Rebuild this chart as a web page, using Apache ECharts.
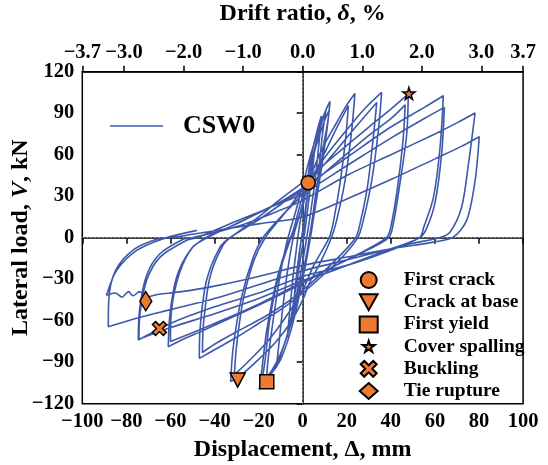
<!DOCTYPE html>
<html><head><meta charset="utf-8">
<script src="https://cdn.jsdelivr.net/npm/echarts@6/dist/echarts.min.js"></script>
<style>html,body{margin:0;padding:0;background:#fff}#c{width:548px;height:465px}</style>
</head><body><div id="c"></div>
<script>
// Hysteresis cycles for CSW0: [displacement mm, lateral load kN]
const cycleE1 = [[0,0],[1.5,22],[2.5,38],[3,40],[2,28],[0.5,10],[-1,-5],[-2.5,-25],[-4,-45],[-3,-30],[-1.5,-10],[0,5]];
const cycleE2 = [[2,30],[4,50],[5.5,65],[4.5,50],[3,30],[1,5],[-1,-15],[-3,-35],[-5,-55],[-7,-72],[-6,-55],[-4.5,-30],[-3,-10],[-1.5,8]];
const cycleE3 = [[1,30],[4,60],[7,80],[8.5,88],[7.5,70],[5.5,40],[3,12],[1,-8],[-2,-35],[-6,-65],[-10,-85],[-12,-94],[-11,-80],[-9,-50],[-6.5,-20],[-4,2]];
const cycleE4 = [[0,25],[4,55],[8,80],[10.5,92],[9,75],[7,45],[4.5,15],[2.5,-5],[0,-30],[-5,-65],[-10,-88],[-15,-100],[-16.5,-102],[-15.5,-85],[-13,-55],[-10,-25],[-7,-2]];
const cycle1a = [[-3,20],[0,38],[4,62],[8,82],[11,94],[12.4,98.5],[11.5,85],[9.3,65],[6.4,29],[3.3,0.4],[1,-18],[-2,-40],[-6,-65],[-11,-88],[-16,-102],[-19.7,-109.6],[-18.5,-95],[-16.3,-66.8],[-11.8,-30.8],[-7.3,-6.8],[-4.3,5.3]];
const cycle1b = [[-1,25],[2,42],[6,66],[10,85],[12,92],[11,78],[8.5,50],[5.5,20],[3.5,0],[0,-30],[-4,-55],[-9,-80],[-14,-96],[-18.5,-104],[-17,-88],[-15,-60],[-11,-28],[-6,-3],[-3,8]];
const cycle2a = [[0,25],[5,50],[10,68],[15,82],[20,96],[23.7,104.3],[22.2,77],[19.2,41],[15.4,12.5],[13,0],[8,-18],[3,-33],[0,-45],[-5,-60],[-12,-75],[-20,-88],[-27,-98],[-32.7,-104],[-31.5,-79],[-27.7,-42.8],[-22.4,-14],[-17.9,0.4]];
const cycle2b = [[-10,15],[0,32],[8,55],[15,78],[20.7,95.4],[19.5,72],[17,40],[14,12],[12,0],[5,-20],[0,-38],[-8,-58],[-16,-75],[-25,-90],[-31,-99],[-30,-78],[-27,-45],[-22,-16],[-17,0]];
const cycle3a = [[-8,18],[0,35],[10,58],[20,78],[28,93],[35.8,105],[34.3,77],[31.3,41],[27.5,12.5],[25,0],[18,-14],[10,-26],[0,-40],[-10,-52],[-20,-62],[-30,-72],[-40,-81],[-46.9,-87.2],[-46.6,-66.8],[-43.6,-30.8],[-37.5,-6.8],[-33,0]];
const cycle3b = [[-20,13],[-10,24],[0,36],[12,57],[24,80],[33.6,97.8],[32,72],[29.5,38],[26,10],[24,0],[15,-16],[0,-38],[-15,-55],[-30,-68],[-40,-77],[-45.5,-83],[-45,-62],[-42,-28],[-36,-5],[-32,1]];
const cycle4a = [[-20,15],[-10,28],[0,40],[15,60],[30,80],[40,93],[47.9,104],[47.2,75],[44.1,39],[41.1,10],[39,0],[28,-10],[15,-20],[0,-33],[-15,-45],[-30,-56],[-45,-67],[-55,-74],[-61,-78.9],[-60.2,-54.8],[-57.2,-28.4],[-51.1,-9.2],[-43.6,0.4]];
const cycle4b = [[-30,10],[-15,22],[0,34],[15,54],[30,74],[40,86],[46.5,96],[45.5,70],[43,36],[40,8],[38,0],[25,-12],[10,-24],[0,-32],[-20,-48],[-40,-62],[-52,-70],[-60,-75],[-59.5,-52],[-56,-26],[-50,-7],[-42,1]];
const cycle5a = [[-25,14],[-10,26],[0,36],[20,58],[40,80],[55,94],[63.8,102.6],[62.3,65],[59.3,29],[55,8],[53,0],[40,-8],[25,-17],[10,-26],[0,-31],[-20,-44],[-40,-55],[-60,-65],[-74.3,-73.5],[-73.8,-54.8],[-70.8,-30.8],[-64.7,-14],[-52.6,-1.9],[-48,0]];
const cycle5b = [[-30,12],[-10,25],[0,32],[20,52],[40,72],[55,86],[64.3,94.2],[63,60],[60,25],[56,6],[53,0],[40,-9],[20,-20],[0,-28],[-20,-40],[-40,-50],[-60,-62],[-74.6,-74],[-74,-52],[-71,-28],[-65,-12],[-54,-1],[-50,0]];
const cycle6a = [[-30,8],[-10,20],[0,27],[20,45],[40,60],[60,75],[70,83],[78.2,90.1],[75.2,53.3],[72.1,22],[66.8,4],[62,0],[50,-4],[30,-12],[15,-18],[0,-24],[-20,-34],[-40,-44],[-60,-52],[-75,-58],[-88.2,-64.4],[-88,-45],[-85,-24],[-77,-9],[-66,-1],[-60,0]];
const cycle6b = [[-40,5],[-20,10],[0,15],[20,28],[40,42],[60,57],[72,66],[80.1,73],[78.2,41],[74.4,12.5],[68.3,0.4],[60,-3],[40,-8],[20,-14],[0,-20],[-20,-28],[-40,-35],[-55,-39],[-66,-41],[-71,-43],[-74,-39],[-77,-42],[-79,-39],[-82,-43],[-85,-40],[-89,-41.6],[-84.4,-23.6],[-75.3,-9.2],[-63.2,-0.7],[-48,5.3]];
const cycles = [cycleE1,cycleE2,cycleE3,cycleE4,cycle1a,cycle1b,cycle2a,cycle2b,cycle3a,cycle3b,cycle4a,cycle4b,cycle5a,cycle5b,cycle6a,cycle6b];

// Damage events
const eventNames = ['First crack','Crack at base','First yield','Cover spalling','Buckling','Tie rupture'];
const eventPoints = [[2.5,39.7],[-29.5,-102.9],[-16.3,-104.1],[48.2,104.3],[-65,-65.6],[-71.2,-45.9]];

// Axis ticks
const driftTicks = [-3.7,-3.0,-2.0,-1.0,0.0,1.0,2.0,3.0,3.7];
const dispTicks = [-100,-80,-60,-40,-20,0,20,40,60,80,100];
const loadTicks = [-120,-90,-60,-30,0,30,60,90,120];

const loopData = [].concat(...cycles);
const FONT = '"Liberation Serif", "DejaVu Serif", serif';
const ORANGE = '#EE7A31';
const BLUE = '#3E58AB';
const minus = s => String(s).replace('-', '\u2212');

const STAR = 'M50,0 L61,35 L98,35 L68,57 L79,91 L50,70 L21,91 L32,57 L2,35 L39,35 Z';
const symbols = {
  'First crack': {symbol:'circle', size:14},
  'Crack at base': {symbol:'path://M0,0 L100,0 L50,90 Z', size:[15,14]},
  'First yield': {symbol:'rect', size:14},
  'Cover spalling': {symbol:'path://' + STAR, size:12},
  'Buckling': {symbol:'path://M22,0 L50,28 L78,0 L100,22 L72,50 L100,78 L78,100 L50,72 L22,100 L0,78 L28,50 L0,22 Z', size:14},
  'Tie rupture': {symbol:'diamond', size:[12,19]}
};

const eventSeries = eventNames.map((n,i)=>({
  name:n, type:'scatter', xAxisIndex:0, yAxisIndex:0,
  symbol: symbols[n].symbol, symbolSize: symbols[n].size,
  itemStyle:{color:ORANGE, borderColor:'#000', borderWidth:1.5, opacity:1},
  data:[eventPoints[i]], z:5
}));

const legendItems = eventNames.map(n => n === 'Cover spalling'
  ? {name:n, icon:'path://M-20,-18 M120,112 ' + STAR} : {name:n});

const tickFont = {color:'#000', fontFamily:FONT, fontWeight:'bold', fontSize:20.5};
const nameFont = {fontFamily:FONT, fontWeight:'bold', fontSize:24, color:'#000'};

const chart = echarts.init(document.getElementById('c'), null, {renderer:'canvas'});
chart.setOption({
  animation:false,
  backgroundColor:'#fff',
  textStyle:{fontFamily:FONT},
  grid:{left:82.3, top:71.7, right:24.9, bottom:61.3, show:true, borderColor:'#000', borderWidth:1.5,
        containLabel:false, outerBoundsMode:'none'},
  legend:[
    {data:[{name:'CSW0', icon:'path://M0,0H100V3H0Z'}], left:105, top:108, itemWidth:53, itemHeight:3,
     itemStyle:{color:BLUE},
     textStyle:{fontFamily:FONT, fontWeight:'bold', fontSize:26, color:'#000', padding:[0,0,0,15]}},
    {data:legendItems, orient:'vertical', left:353.7, top:265, itemGap:2.2, itemWidth:18, itemHeight:16,
     textStyle:{fontFamily:FONT, fontWeight:'bold', fontSize:19.5, lineHeight:20, color:'#000', padding:[0,0,0,21]}}
  ],
  xAxis:[
    {type:'value', position:'bottom', min:-100, max:100, interval:20,
     axisLine:{lineStyle:{color:'#000', width:1.5}},
     axisTick:{inside:false, length:6, lineStyle:{color:'#000', width:1.5}},
     axisLabel:Object.assign({margin:8, formatter:v=>minus(v)}, tickFont),
     splitLine:{show:false},
     name:'Displacement, \u0394, mm', nameLocation:'middle', nameGap:34, nameMoveOverlap:false,
     nameTextStyle:nameFont},
    {type:'value', position:'top', min:-3.7, max:3.7,
     axisLine:{lineStyle:{color:'#000', width:1.5}},
     axisTick:{inside:false, length:6, customValues:driftTicks, lineStyle:{color:'#000', width:1.5}},
     axisLabel:Object.assign({margin:8, customValues:driftTicks, formatter:v=>minus(v.toFixed(1))}, tickFont),
     splitLine:{show:false},
     name:'Drift ratio, {i|\u03b4}, %', nameLocation:'middle', nameGap:46, nameMoveOverlap:false,
     nameTextStyle:Object.assign({rich:{i:Object.assign({fontStyle:'italic'}, nameFont)}}, nameFont)}
  ],
  yAxis:[
    {type:'value', min:-120, max:120, interval:30,
     axisLine:{lineStyle:{color:'#000', width:1.5}},
     axisTick:{inside:false, length:6, lineStyle:{color:'#000', width:1.5}},
     axisLabel:Object.assign({margin:8, formatter:v=>minus(v)}, tickFont),
     splitLine:{show:false},
     name:'Lateral load, {i|V}, kN', nameLocation:'middle', nameGap:50, nameMoveOverlap:false,
     nameTextStyle:Object.assign({rich:{i:Object.assign({fontStyle:'italic'}, nameFont)}}, nameFont)}
  ],
  series:[
    {name:'CSW0', type:'line', xAxisIndex:0, yAxisIndex:0, data:loopData, symbol:'none', smooth:0.3,
     lineStyle:{color:BLUE, width:1.6}, itemStyle:{color:BLUE}, z:3,
     markLine:{silent:true, symbol:['none','none'], label:{show:false}, z:1,
       lineStyle:{type:[2,2], color:'#999', width:1},
       data:[{xAxis:0},{yAxis:0}]}},
    ...eventSeries
  ]
});
</script></body></html>
